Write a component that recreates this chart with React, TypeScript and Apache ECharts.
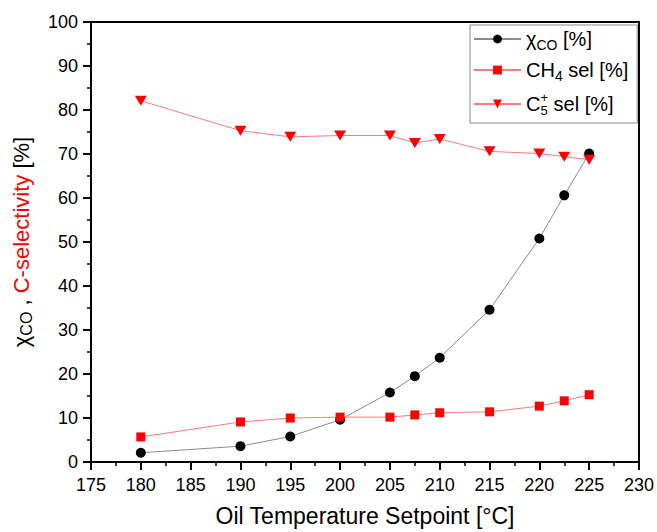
import React, { useEffect, useRef } from "react";
import * as echarts from "echarts";

const temps = [180, 190, 195, 200, 205, 207.5, 210, 215, 220, 222.5, 225];
const xco = [2.1, 3.6, 5.8, 9.6, 15.8, 19.5, 23.7, 34.6, 50.8, 60.6, 70.1];
const ch4Sel = [5.7, 9.1, 10.0, 10.2, 10.2, 10.7, 11.2, 11.4, 12.7, 13.9, 15.3];
const c5Sel = [82.1, 75.3, 73.9, 74.2, 74.2, 72.5, 73.4, 70.6, 70.1, 69.4, 68.7];

const seriesNames = ["χCO [%]", "CH4 sel [%]", "C5+ sel [%]"];
const legendLabels: Record<string, string> = {
  "χCO [%]": "{n|χ}{sub|CO}{n| [%]}",
  "CH4 sel [%]": "{n|CH}{sub|4}{n| sel [%]}",
  "C5+ sel [%]": "{n|C}{subz|5}{sup|+}{n| sel [%]}",
};

const FONT = 'Arial, "Liberation Sans", Helvetica, sans-serif';

export default function App() {
  const ref = useRef<HTMLDivElement>(null);
  useEffect(() => {
    if (!ref.current) return;
    const chart = echarts.init(ref.current, undefined, { renderer: "svg" });
    const pair = (ys: number[]) => temps.map((t, i) => [t, ys[i]]);
    chart.setOption({
      animation: false,
      backgroundColor: "#fff",
      textStyle: { fontFamily: FONT },
      grid: {
        left: 91,
        right: 17,
        top: 22,
        bottom: 68.5,
        show: true,
        borderColor: "#000",
        borderWidth: 2,
        backgroundColor: "transparent",
      },
      legend: {
        orient: "vertical",
        left: 470,
        top: 25,
        padding: [4, 9, 6, 3],
        itemGap: 8,
        itemWidth: 47,
        itemHeight: 11,
        backgroundColor: "#fff",
        borderColor: "#8a8a8a",
        borderWidth: 1,
        borderRadius: 0,
        data: seriesNames,
        formatter: (name: string) => legendLabels[name] || name,
        textStyle: {
          fontFamily: FONT,
          color: "#000",
          rich: {
            n: { fontSize: 20, lineHeight: 26, color: "#000", fontFamily: FONT },
            sub: { fontSize: 14, lineHeight: 14, verticalAlign: "bottom", color: "#000", fontFamily: FONT },
            subz: { fontSize: 13, lineHeight: 8, width: 0, verticalAlign: "bottom", color: "#000", fontFamily: FONT },
            sup: { fontSize: 13, lineHeight: 8, verticalAlign: "top", color: "#000", fontFamily: FONT },
          },
        },
      },
      xAxis: {
        type: "value",
        min: 175,
        max: 230,
        interval: 5,
        name: "Oil Temperature Setpoint [°C]",
        nameLocation: "middle",
        nameGap: 42,
        nameTextStyle: { fontSize: 23, color: "#000", fontFamily: FONT },
        axisLine: { show: true, onZero: false, lineStyle: { color: "#000", width: 2 } },
        axisTick: { show: true, inside: false, length: 8, lineStyle: { color: "#000", width: 2 } },
        minorTick: { show: true, splitNumber: 2, length: 4, lineStyle: { color: "#000", width: 1.5 } },
        axisLabel: { fontSize: 18, color: "#000", margin: 14, fontFamily: FONT },
        splitLine: { show: false },
      },
      yAxis: {
        type: "value",
        min: 0,
        max: 100,
        interval: 10,
        name: "{b|χ}{bs|CO}{b| , }{r|C-selectivity}{b| [%]}",
        nameLocation: "middle",
        nameGap: 57,
        nameRotate: 90,
        nameTextStyle: {
          fontFamily: FONT,
          rich: {
            b: { fontSize: 22, lineHeight: 26, color: "#000", fontFamily: FONT },
            bs: { fontSize: 16, lineHeight: 15, verticalAlign: "bottom", color: "#000", fontFamily: FONT },
            r: { fontSize: 22, lineHeight: 26, color: "#ff0000", fontFamily: FONT },
          },
        },
        axisLine: { show: true, lineStyle: { color: "#000", width: 2 } },
        axisTick: { show: true, inside: false, length: 8, lineStyle: { color: "#000", width: 2 } },
        minorTick: { show: true, splitNumber: 2, length: 4, lineStyle: { color: "#000", width: 1.5 } },
        axisLabel: { fontSize: 18, color: "#000", margin: 13, fontFamily: FONT },
        splitLine: { show: false },
      },
      series: [
        {
          name: seriesNames[0],
          type: "line",
          data: pair(xco),
          symbol: "circle",
          symbolSize: 10,
          itemStyle: { color: "#000" },
          lineStyle: { color: "#8c8c8c", width: 1 },
        },
        {
          name: seriesNames[1],
          type: "line",
          data: pair(ch4Sel),
          symbol: "rect",
          symbolSize: 9,
          itemStyle: { color: "#ff0000" },
          lineStyle: { color: "#ff7a7a", width: 1 },
        },
        {
          name: seriesNames[2],
          type: "line",
          data: pair(c5Sel),
          symbol: "triangle",
          symbolRotate: 180,
          symbolSize: [12, 10],
          itemStyle: { color: "#ff0000" },
          lineStyle: { color: "#ff7a7a", width: 1 },
        },
      ],
    });
    return () => chart.dispose();
  }, []);
  return <div ref={ref} style={{ width: 657, height: 532, position: "absolute", left: 0, top: 0 }} />;
}
